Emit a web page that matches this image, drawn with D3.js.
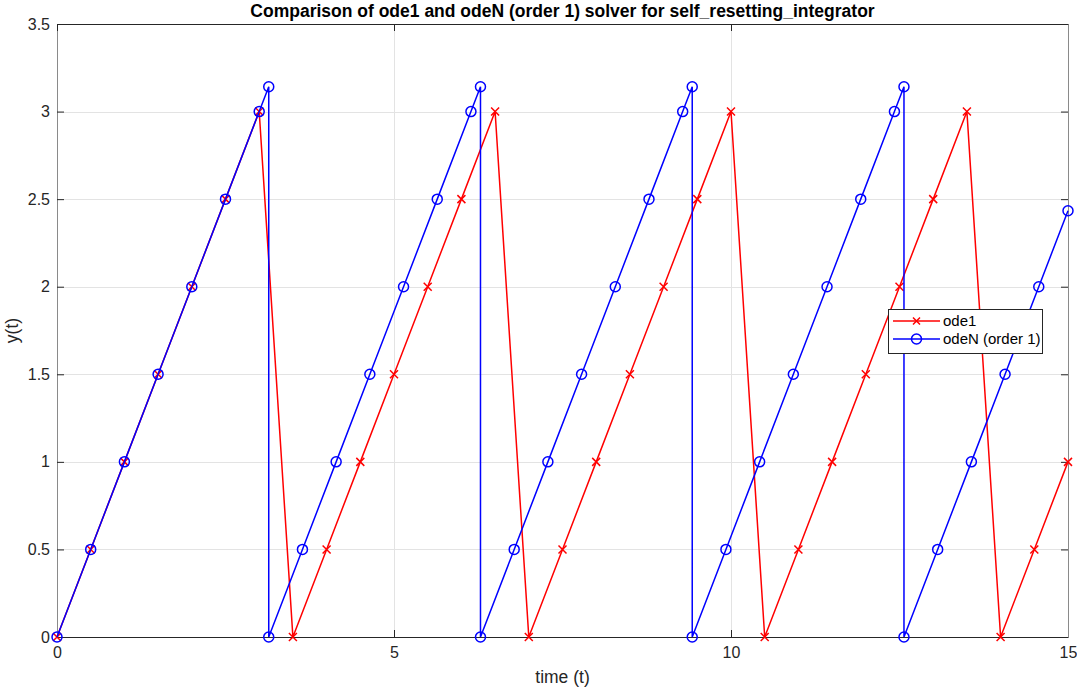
<!DOCTYPE html>
<html><head><meta charset="utf-8">
<script src="https://cdn.jsdelivr.net/npm/d3@7/dist/d3.min.js"></script>
<style>body{margin:0;background:#fff;} svg{display:block;font-family:"Liberation Sans",Arial,sans-serif;}</style>
</head><body>
<script>
const ode1T = [0,0.5,1,1.5,2,2.5,3,3.5,4,4.5,5,5.5,6,6.5,7,7.5,8,8.5,9,9.5,10,10.5,11,11.5,12,12.5,13,13.5,14,14.5,15];
const ode1Y = [0,0.5,1,1.5,2,2.5,3,0,0.5,1,1.5,2,2.5,3,0,0.5,1,1.5,2,2.5,3,0,0.5,1,1.5,2,2.5,3,0,0.5,1];
const odeNT = [0,0.5,1,1.5,2,2.5,3,3.1416,3.1416,3.6416,4.1416,4.6416,5.1416,5.6416,6.1416,6.2832,6.2832,6.7832,7.2832,7.7832,8.2832,8.7832,9.2832,9.4248,9.4248,9.9248,10.4248,10.9248,11.4248,11.9248,12.4248,12.5664,12.5664,13.0664,13.5664,14.0664,14.5664,15];
const odeNY = [0,0.5,1,1.5,2,2.5,3,3.1416,0,0.5,1,1.5,2,2.5,3,3.1416,0,0.5,1,1.5,2,2.5,3,3.1416,0,0.5,1,1.5,2,2.5,3,3.1416,0,0.5,1,1.5,2,2.4336];
const xTicks = [0,5,10,15];
const yTicks = [0,0.5,1,1.5,2,2.5,3,3.5];
const title = "Comparison of ode1 and odeN (order 1) solver for self_resetting_integrator";
const seriesNames = ["ode1","odeN (order 1)"];

const W=1077,H=690;
const L=57,R=1068,T=24,B=637;
const svg=d3.select("body").append("svg").attr("width",W).attr("height",H);
const x=d3.scaleLinear().domain([0,15]).range([L,R]);
const y=d3.scaleLinear().domain([0,3.5]).range([B,T]);

// grid
const g=svg.append("g");
g.selectAll(".gx").data(xTicks).enter().append("line")
 .attr("x1",d=>Math.round(x(d))+0.5).attr("x2",d=>Math.round(x(d))+0.5).attr("y1",T).attr("y2",B)
 .attr("stroke","#e3e3e3").attr("stroke-width",1);
g.selectAll(".gy").data(yTicks).enter().append("line")
 .attr("y1",d=>Math.round(y(d))+0.5).attr("y2",d=>Math.round(y(d))+0.5).attr("x1",L).attr("x2",R)
 .attr("stroke","#e3e3e3").attr("stroke-width",1);

// axes
const ax=svg.append("g").attr("transform",`translate(0,${B})`)
 .call(d3.axisBottom(x).tickValues(xTicks).tickSize(-7).tickPadding(10).tickFormat(d3.format("")));
const ay=svg.append("g").attr("transform",`translate(${L},0)`)
 .call(d3.axisLeft(y).tickValues(yTicks).tickSize(-7).tickPadding(7).tickFormat(d3.format("")));
const axTop=svg.append("g").attr("transform",`translate(0,${T})`)
 .call(d3.axisTop(x).tickValues(xTicks).tickSize(-7).tickFormat(""));
const ayR=svg.append("g").attr("transform",`translate(${R},0)`)
 .call(d3.axisRight(y).tickValues(yTicks).tickSize(-7).tickFormat(""));
[ax,ay,axTop,ayR].forEach(a=>{
  a.select(".domain").attr("stroke","#262626").attr("stroke-width",1);
  a.selectAll(".tick line").attr("stroke","#262626");
  a.selectAll(".tick text").attr("fill","#262626").attr("font-size",16);
});
ay.select(".domain").attr("stroke","#8a8a8a");
ayR.select(".domain").attr("stroke","#8a8a8a");

// lines
const line=d3.line().x(d=>x(d[0])).y(d=>y(d[1]));
const d1=ode1T.map((t,i)=>[t,ode1Y[i]]);
const dN=odeNT.map((t,i)=>[t,odeNY[i]]);
svg.append("path").datum(d1).attr("d",line).attr("fill","none").attr("stroke","#ff0000").attr("stroke-width",1.5);
svg.selectAll(".xm").data(d1).enter().append("path")
 .attr("transform",d=>`translate(${x(d[0])},${y(d[1])})`)
 .attr("d","M-4,-4L4,4M-4,4L4,-4").attr("stroke","#ff0000").attr("stroke-width",1.5).attr("fill","none");
svg.append("path").datum(dN).attr("d",line).attr("fill","none").attr("stroke","#0000ff").attr("stroke-width",1.5);
svg.selectAll(".om").data(dN).enter().append("circle")
 .attr("cx",d=>x(d[0])).attr("cy",d=>y(d[1])).attr("r",5)
 .attr("stroke","#0000ff").attr("stroke-width",1.5).attr("fill","none");

// labels
svg.append("text").attr("x",(L+R)/2).attr("y",17).attr("text-anchor","middle")
 .attr("font-weight","bold").attr("font-size",17.5).attr("fill","#000").text(title);
svg.append("text").attr("x",(L+R)/2).attr("y",683).attr("text-anchor","middle")
 .attr("font-size",17.5).attr("fill","#262626").text("time (t)");
svg.append("text").attr("transform",`translate(18,${(T+B)/2}) rotate(-90)`).attr("text-anchor","middle")
 .attr("font-size",17.5).attr("fill","#262626").text("y(t)");

// legend
const lg=svg.append("g");
lg.append("rect").attr("x",888.5).attr("y",309.5).attr("width",154).attr("height",44)
 .attr("fill","#fff").attr("stroke","#262626").attr("stroke-width",1);
const ly=[321,339];
const cols=["#ff0000","#0000ff"];
seriesNames.forEach((n,i)=>{
  lg.append("line").attr("x1",893).attr("x2",940).attr("y1",ly[i]).attr("y2",ly[i]).attr("stroke",cols[i]).attr("stroke-width",1.5);
  if(i===0) lg.append("path").attr("transform",`translate(916.5,${ly[i]})`).attr("d","M-3.5,-3.5L3.5,3.5M-3.5,3.5L3.5,-3.5").attr("stroke",cols[i]).attr("stroke-width",1.5);
  else lg.append("circle").attr("cx",916.5).attr("cy",ly[i]).attr("r",5).attr("fill","none").attr("stroke",cols[i]).attr("stroke-width",1.5);
  lg.append("text").attr("x",943).attr("y",ly[i]+5).attr("font-size",15).attr("fill","#000").text(n);
});
</script>
</body></html>
